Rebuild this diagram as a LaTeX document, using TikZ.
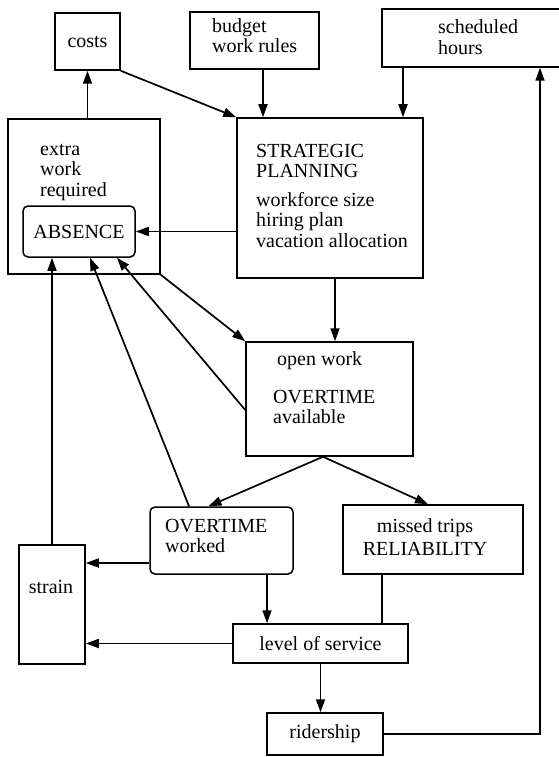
\documentclass[tikz,border=0pt]{standalone}
\usepackage{fontspec}
\setmainfont{Liberation Serif}
\usetikzlibrary{arrows.meta,calc}

\begin{document}
\begin{tikzpicture}[
  x=1pt, y=-1pt,
  font=\fontsize{20}{20.5}\selectfont,
  box/.style={draw, line width=1.5pt, inner sep=0pt},
  rbox/.style={box, rounded corners=5pt},
  txt/.style={align=left, inner sep=0pt, anchor=north west},
  arr/.style={-{Triangle[length=13pt, width=9pt]}, line width=1.7pt},
  ln/.style={line width=1.7pt}
]
\useasboundingbox (0,0) rectangle (559,757);

% ---------- inputs ----------
\node[box, minimum width=65pt, minimum height=57pt] (costs) at (87.5,41.5) {costs};
\node[box, minimum width=129pt, minimum height=57pt] (budget) at (254.5,40.5) {};
\node[txt] (budgettx) at (212,17.65) {\strut budget\\work rules};
\node[box, minimum width=184pt, minimum height=58pt] (sched) at (474,38) {};
\node[txt] (schedtx) at (438,19) {\strut scheduled\\hours};

% ---------- planning and absence ----------
\node[box, minimum width=186pt, minimum height=160pt] (plan) at (330,198) {};
\node[txt] (plantx) at (256,142.65)
  {\strut STRATEGIC\\PLANNING\\[8pt]workforce size\\hiring plan\\vacation allocation};
\node[box, minimum width=152pt, minimum height=155pt] (extra) at (84,196.5) {};
\node[txt] (extratx) at (40,140.65) {\strut extra\\work\\required};
\node[rbox, minimum width=112pt, minimum height=51pt] (absence) at (79,231.5) {ABSENCE};

% ---------- overtime ----------
\node[box, minimum width=167pt, minimum height=114pt] (open) at (329.5,399) {};
\node[txt] (opentx) at (273,350.65)
  {\strut\hspace*{4pt}open work\\[17.5pt]OVERTIME\\available};
\node[rbox, minimum width=143pt, minimum height=67pt] (otw) at (221.5,540.5) {};
\node[txt] (otwtx) at (165,517.65) {\strut OVERTIME\\worked};
\node[box, minimum width=180pt, minimum height=69pt] (missed) at (433,539.5) {};
\node[txt, anchor=north, align=center] (missedtx) at (425,517.65)
  {\strut missed trips\\[2.5pt]RELIABILITY};

% ---------- service ----------
\node[box, minimum width=66pt, minimum height=119pt] (strain) at (52,604.5) {};
\node[inner sep=0pt, anchor=base] (straintx) at (51,593) {strain};
\node[box, minimum width=175pt, minimum height=39pt] (los) at (320.5,643.5) {level of service};
\node[box, minimum width=116pt, minimum height=42pt] (rider) at (325,734) {ridership};

% ---------- connectors ----------
\coordinate (bt) at ($(budget.south)+(8.5,0)$);
\coordinate (st) at ($(sched.south)+(-71,0)$);
\coordinate (pt) at ($(plan.south)+(5,0)$);
\coordinate (fork) at ($(open.south)+(-6.5,0)$);
\coordinate (ow) at ($(otw.west)+(0,22.5)$);
\coordinate (oa) at ($(otw.south)+(45.5,0)$);
\coordinate (ma) at ($(missed.south)+(-51,0)$);

\draw[arr] (costs.south east) -- (plan.north west);
\draw[arr] (bt) -- (bt |- plan.north);
\draw[arr] (st) -- (st |- plan.north);
\draw[arr] (costs.south |- extra.north) -- (costs.south);
\draw[arr] (plan.west |- absence.east) -- (absence.east);
\draw[arr] (extra.south east) -- (open.north west);
\draw[arr] (pt) -- (pt |- open.north);

\draw[arr] (fork) -- ($(otw.north)+(-13,0)$);
\draw[arr] (fork) -- ($(missed.north)+(-5,0)$);

\draw[arr] (strain.north) -- (strain.north |- absence.south);
\draw[arr] ($(otw.north)+(-32.5,0)$) -- ($(absence.south)+(11,0)$);
\draw[arr] ($(open.west)+(0,11)$) -- ($(absence.south)+(38,0)$);

\draw[arr] (ow) -- (ow -| strain.east);
\draw[arr] (oa) -- (oa |- los.north);
\draw[ln] (ma) -- (ma |- los.north);
\draw[arr] (los.west) -- (los.west -| strain.east);
\draw[arr] (los.south) -- (los.south |- rider.north);
\draw[arr] (rider.east) -| ($(sched.south)+(66,0)$);

\end{tikzpicture}
\end{document}
